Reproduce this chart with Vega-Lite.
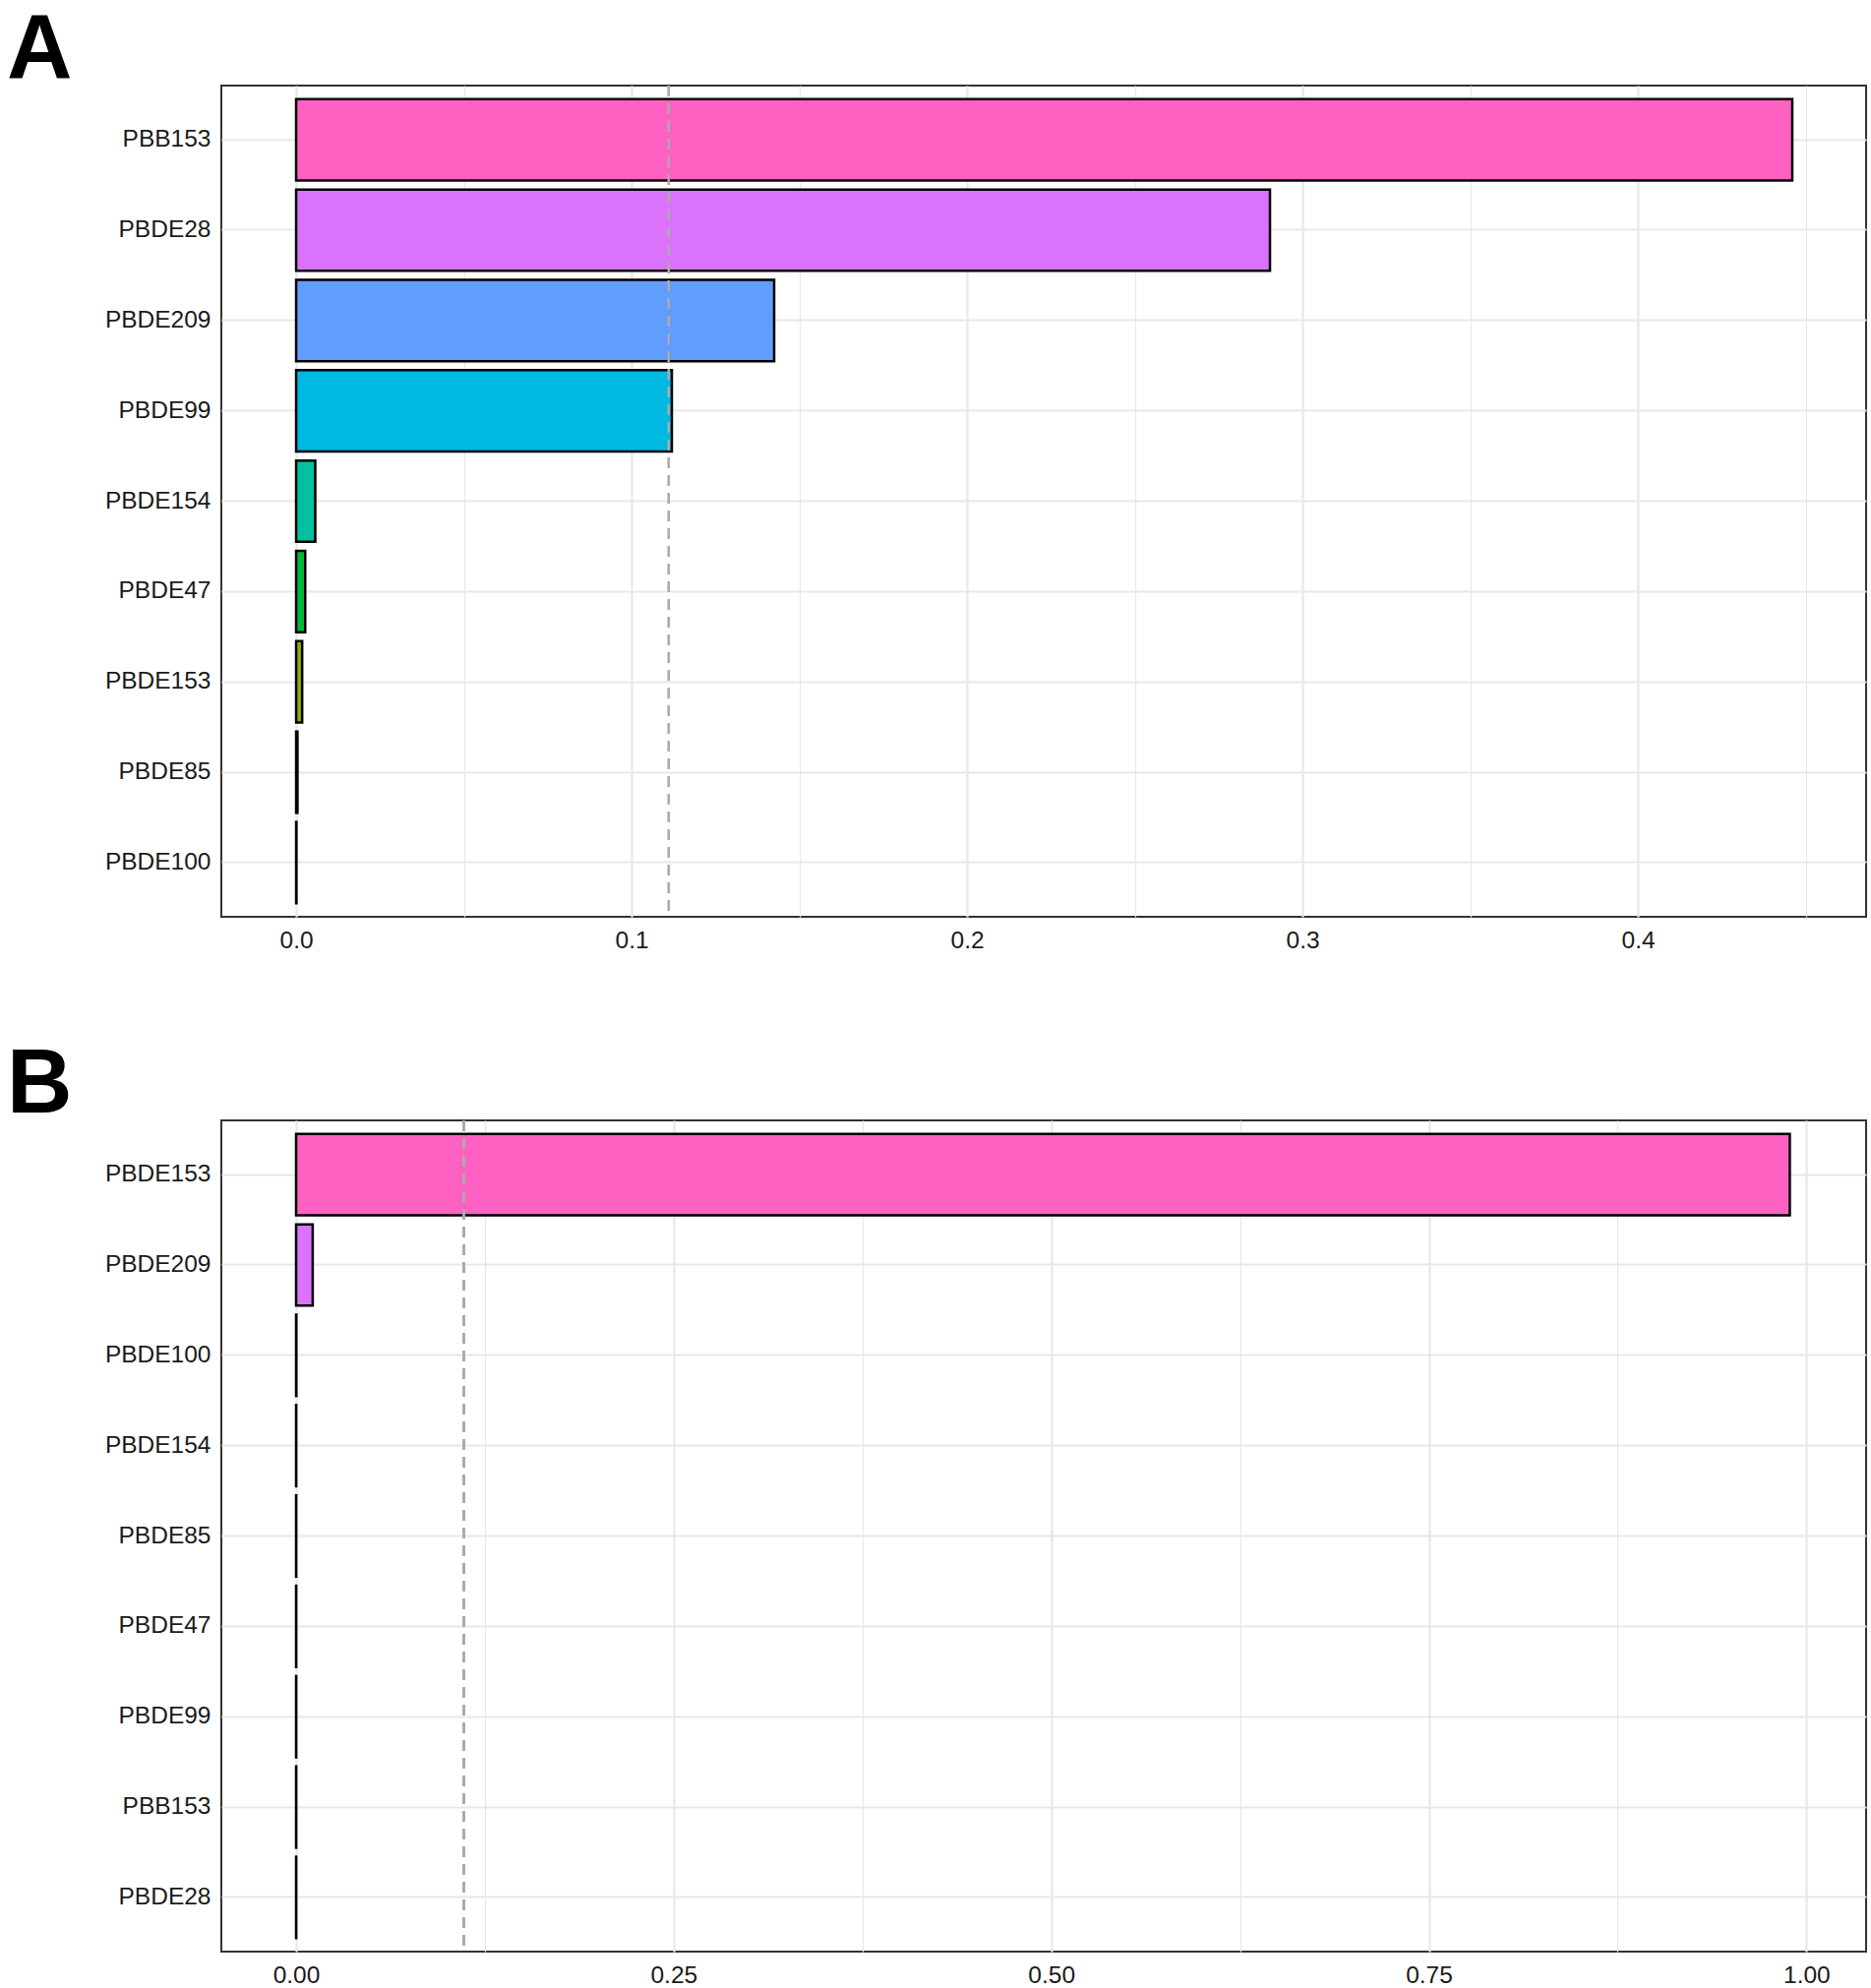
{
  "$schema": "https://vega.github.io/schema/vega-lite/v6.json",
  "background": "white",
  "padding": {"left": 6, "top": 4, "right": 4, "bottom": 4},
  "spacing": 87,
  "resolve": {"scale": {"color": "independent"}},
  "config": {
    "font": "Liberation Sans",
    "view": {"stroke": "#333333", "strokeWidth": 2},
    "axis": {"gridColor": "#E8E8E8", "domain": false, "ticks": false, "labelFont": "Liberation Sans", "labelFontSize": 24.5, "labelColor": "#1A1A1A", "title": null},
    "title": {"fontSize": 92, "fontWeight": "bold", "anchor": "start", "frame": "group", "dx": -218, "offset": -12, "font": "Liberation Sans", "color": "black"}
  },
  "datasets": {
    "A": [
      {"variable": "PBB153", "value": 0.446},
      {"variable": "PBDE28", "value": 0.2903},
      {"variable": "PBDE209", "value": 0.1425},
      {"variable": "PBDE99", "value": 0.112},
      {"variable": "PBDE154", "value": 0.0057},
      {"variable": "PBDE47", "value": 0.0027},
      {"variable": "PBDE153", "value": 0.0018},
      {"variable": "PBDE85", "value": 0.0004},
      {"variable": "PBDE100", "value": 0.0001}
    ],
    "B": [
      {"variable": "PBDE153", "value": 0.989},
      {"variable": "PBDE209", "value": 0.011},
      {"variable": "PBDE100", "value": 0.0002},
      {"variable": "PBDE154", "value": 0.0001},
      {"variable": "PBDE85", "value": 0.0001},
      {"variable": "PBDE47", "value": 0.0001},
      {"variable": "PBDE99", "value": 0.0001},
      {"variable": "PBB153", "value": 0.0001},
      {"variable": "PBDE28", "value": 0.0001}
    ]
  },
  "vconcat": [
    {
      "width": 1672,
      "height": 845,
      "title": {"text": "A"},
      "data": {"name": "A"},
      "layer": [
        {
          "mark": {"type": "bar", "stroke": "black", "strokeWidth": 2.5},
          "encoding": {
            "y": {
              "field": "variable", "type": "nominal",
              "sort": ["PBB153", "PBDE28", "PBDE209", "PBDE99", "PBDE154", "PBDE47", "PBDE153", "PBDE85", "PBDE100"],
              "scale": {"paddingInner": 0.1, "paddingOuter": 0.15},
              "axis": {"labelPadding": 11, "grid": true, "bandPosition": 0.5, "gridWidth": 2.2}
            },
            "x": {
              "field": "value", "type": "quantitative",
              "scale": {"domain": [-0.0223, 0.468], "nice": false, "zero": false},
              "axis": {
                "values": [0, 0.05, 0.1, 0.15, 0.2, 0.25, 0.3, 0.35, 0.4, 0.45],
                "labelExpr": "abs(datum.value*10 - round(datum.value*10)) < 0.001 ? format(datum.value, '.1f') : ''",
                "labelPadding": 12,
                "grid": true,
                "gridWidth": {"condition": {"test": "abs(datum.value*10 - round(datum.value*10)) < 0.001", "value": 2.2}, "value": 1.2}
              }
            },
            "color": {
              "field": "variable", "type": "nominal", "legend": null,
              "scale": {
                "domain": ["PBDE100", "PBDE85", "PBDE153", "PBDE47", "PBDE154", "PBDE99", "PBDE209", "PBDE28", "PBB153"],
                "range": ["#F8766D", "#D39200", "#93AA00", "#00BA38", "#00C19F", "#00B9E3", "#619CFF", "#DB72FB", "#FF61C3"]
              }
            }
          }
        },
        {
          "mark": {"type": "rule", "color": "#ABABAB", "strokeWidth": 2, "strokeDash": [11, 7]},
          "encoding": {"x": {"datum": 0.1111}}
        }
      ]
    },
    {
      "width": 1672,
      "height": 845,
      "title": {"text": "B"},
      "data": {"name": "B"},
      "layer": [
        {
          "mark": {"type": "bar", "stroke": "black", "strokeWidth": 2.5},
          "encoding": {
            "y": {
              "field": "variable", "type": "nominal",
              "sort": ["PBDE153", "PBDE209", "PBDE100", "PBDE154", "PBDE85", "PBDE47", "PBDE99", "PBB153", "PBDE28"],
              "scale": {"paddingInner": 0.1, "paddingOuter": 0.15},
              "axis": {"labelPadding": 11, "grid": true, "bandPosition": 0.5, "gridWidth": 2.2}
            },
            "x": {
              "field": "value", "type": "quantitative",
              "scale": {"domain": [-0.0495, 1.0395], "nice": false, "zero": false},
              "axis": {
                "values": [0, 0.125, 0.25, 0.375, 0.5, 0.625, 0.75, 0.875, 1],
                "labelExpr": "abs(datum.value*4 - round(datum.value*4)) < 0.001 ? format(datum.value, '.2f') : ''",
                "labelPadding": 12,
                "grid": true,
                "gridWidth": {"condition": {"test": "abs(datum.value*4 - round(datum.value*4)) < 0.001", "value": 2.2}, "value": 1.2}
              }
            },
            "color": {
              "field": "variable", "type": "nominal", "legend": null,
              "scale": {
                "domain": ["PBDE28", "PBB153", "PBDE99", "PBDE47", "PBDE85", "PBDE154", "PBDE100", "PBDE209", "PBDE153"],
                "range": ["#F8766D", "#D39200", "#93AA00", "#00BA38", "#00C19F", "#00B9E3", "#619CFF", "#DB72FB", "#FF61C3"]
              }
            }
          }
        },
        {
          "mark": {"type": "rule", "color": "#ABABAB", "strokeWidth": 2, "strokeDash": [11, 7]},
          "encoding": {"x": {"datum": 0.1111}}
        }
      ]
    }
  ]
}
